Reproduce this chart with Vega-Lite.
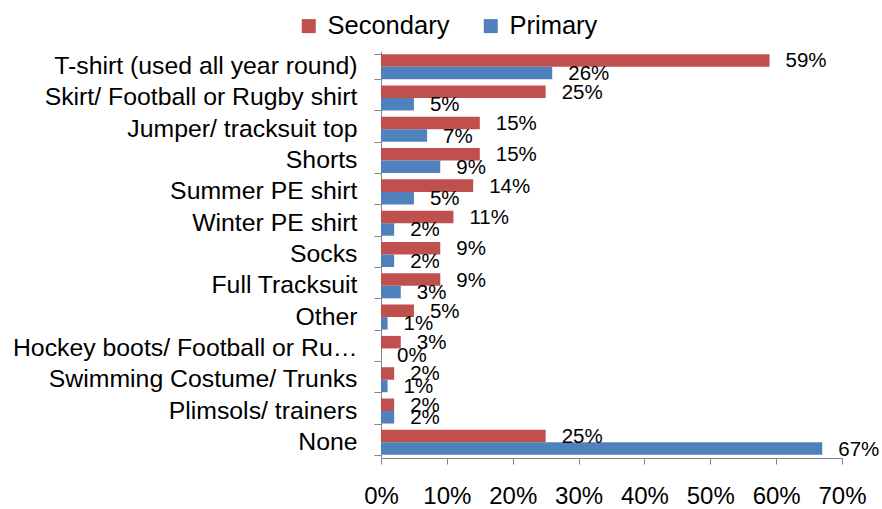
{
  "$schema": "https://vega.github.io/schema/vega-lite/v6.json",
  "autosize": {"type": "none"},
  "width": 461,
  "height": 407,
  "padding": {"left": 381, "top": 51, "right": 40, "bottom": 51},
  "background": "white",
  "config": {"font": "Liberation Sans", "view": {"stroke": null}},
  "data": {"values": [
    {"item": "T-shirt (used all year round)", "group": "Secondary", "value": 0.59},
    {"item": "T-shirt (used all year round)", "group": "Primary", "value": 0.26},
    {"item": "Skirt/ Football or Rugby shirt", "group": "Secondary", "value": 0.25},
    {"item": "Skirt/ Football or Rugby shirt", "group": "Primary", "value": 0.05},
    {"item": "Jumper/ tracksuit top", "group": "Secondary", "value": 0.15},
    {"item": "Jumper/ tracksuit top", "group": "Primary", "value": 0.07},
    {"item": "Shorts", "group": "Secondary", "value": 0.15},
    {"item": "Shorts", "group": "Primary", "value": 0.09},
    {"item": "Summer PE shirt", "group": "Secondary", "value": 0.14},
    {"item": "Summer PE shirt", "group": "Primary", "value": 0.05},
    {"item": "Winter PE shirt", "group": "Secondary", "value": 0.11},
    {"item": "Winter PE shirt", "group": "Primary", "value": 0.02},
    {"item": "Socks", "group": "Secondary", "value": 0.09},
    {"item": "Socks", "group": "Primary", "value": 0.02},
    {"item": "Full Tracksuit", "group": "Secondary", "value": 0.09},
    {"item": "Full Tracksuit", "group": "Primary", "value": 0.03},
    {"item": "Other", "group": "Secondary", "value": 0.05},
    {"item": "Other", "group": "Primary", "value": 0.01},
    {"item": "Hockey boots/ Football or Rugby boots", "group": "Secondary", "value": 0.03},
    {"item": "Hockey boots/ Football or Rugby boots", "group": "Primary", "value": 0.0},
    {"item": "Swimming Costume/ Trunks", "group": "Secondary", "value": 0.02},
    {"item": "Swimming Costume/ Trunks", "group": "Primary", "value": 0.01},
    {"item": "Plimsols/ trainers", "group": "Secondary", "value": 0.02},
    {"item": "Plimsols/ trainers", "group": "Primary", "value": 0.02},
    {"item": "None", "group": "Secondary", "value": 0.25},
    {"item": "None", "group": "Primary", "value": 0.67}
  ]},
  "encoding": {
    "y": {
      "field": "item", "type": "nominal", "sort": null,
      "scale": {"paddingInner": 0.2, "paddingOuter": 0.1},
      "axis": {
        "title": null, "labelFontSize": 24.8, "labelColor": "black", "labelLimit": 352,
        "tickBand": "extent", "tickSize": 7, "tickColor": "#868686", "domainColor": "#868686",
        "labelPadding": 17
      }
    },
    "x": {
      "field": "value", "type": "quantitative",
      "scale": {"domain": [0, 0.7], "nice": false},
      "axis": {
        "title": null, "format": ".0%", "values": [0, 0.1, 0.2, 0.3, 0.4, 0.5, 0.6, 0.7],
        "grid": false, "labelFontSize": 24, "labelColor": "black", "tickSize": 6,
        "tickColor": "#868686", "domainColor": "#868686", "labelPadding": 20,
        "labelFlush": false
      }
    },
    "yOffset": {"field": "group", "type": "nominal", "scale": {"domain": ["Secondary", "Primary"], "paddingInner": 0, "paddingOuter": 0}}
  },
  "layer": [
    {
      "mark": {"type": "bar"},
      "encoding": {
        "color": {
          "field": "group", "type": "nominal",
          "scale": {"domain": ["Secondary", "Primary"], "range": ["#C0504D", "#4F81BD"]},
          "legend": {
            "title": null, "orient": "none", "direction": "horizontal",
            "legendX": -85, "legendY": -38, "padding": 0,
            "symbolType": "square", "symbolSize": 196, "symbolStrokeWidth": 0,
            "labelFontSize": 25.5, "labelColor": "black", "labelOffset": 6, "columnPadding": 28
          }
        }
      }
    },
    {
      "mark": {"type": "text", "align": "left", "baseline": "middle", "dx": 16, "dy": 1, "fontSize": 20.5, "color": "black"},
      "encoding": {
        "text": {"field": "value", "type": "quantitative", "format": ".0%"}
      }
    }
  ]
}
